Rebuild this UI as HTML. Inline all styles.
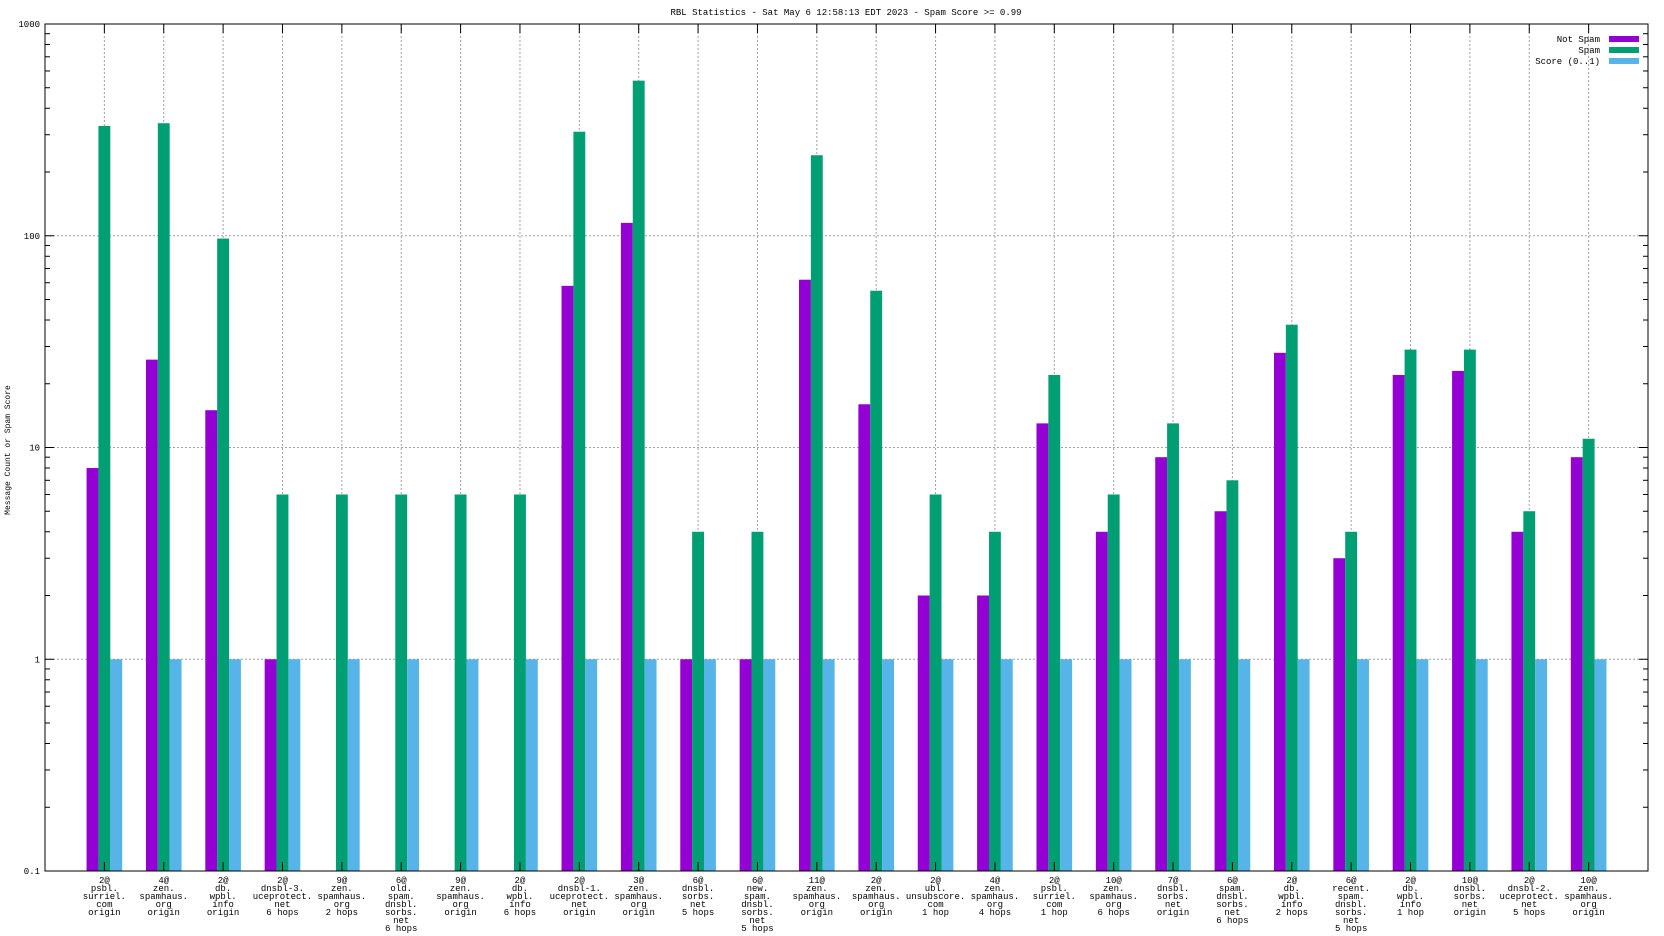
<!DOCTYPE html>
<html><head><meta charset="utf-8"><style>
html,body{margin:0;padding:0;background:#fff;}
svg{display:block;font-family:"Liberation Mono","DejaVu Sans Mono",monospace;}
</style></head><body>
<svg id="chart" width="1664" height="936" viewBox="0 0 1664 936" xmlns="http://www.w3.org/2000/svg">
<text x="846" y="15" font-size="9" text-anchor="middle">RBL Statistics - Sat May  6 12:58:13 EDT 2023 - Spam Score &gt;= 0.99</text>
<text transform="translate(10,450) rotate(-90)" font-size="8" text-anchor="middle">Message Count or Spam Score</text>
<g id="grid"></g><g id="bars"></g><g id="axes"></g><g id="labels"></g>
<g font-size="9">
<text x="1600" y="42" text-anchor="end">Not Spam</text>
<rect x="1609" y="36" width="30" height="6" fill="#9400d3"/>
<text x="1600" y="53" text-anchor="end">Spam</text>
<rect x="1609" y="47" width="30" height="6" fill="#009e73"/>
<text x="1600" y="64" text-anchor="end">Score (0..1)</text>
<rect x="1609" y="58" width="30" height="6" fill="#56b4e9"/>
</g>
</svg>
<script>
const categories=[
"2@|psbl.|surriel.|com|origin","4@|zen.|spamhaus.|org|origin","2@|db.|wpbl.|info|origin","2@|dnsbl-3.|uceprotect.|net|6 hops",
"9@|zen.|spamhaus.|org|2 hops","6@|old.|spam.|dnsbl.|sorbs.|net|6 hops","9@|zen.|spamhaus.|org|origin","2@|db.|wpbl.|info|6 hops",
"2@|dnsbl-1.|uceprotect.|net|origin","3@|zen.|spamhaus.|org|origin","6@|dnsbl.|sorbs.|net|5 hops","6@|new.|spam.|dnsbl.|sorbs.|net|5 hops",
"11@|zen.|spamhaus.|org|origin","2@|zen.|spamhaus.|org|origin","2@|ubl.|unsubscore.|com|1 hop","4@|zen.|spamhaus.|org|4 hops",
"2@|psbl.|surriel.|com|1 hop","10@|zen.|spamhaus.|org|6 hops","7@|dnsbl.|sorbs.|net|origin","6@|spam.|dnsbl.|sorbs.|net|6 hops",
"2@|db.|wpbl.|info|2 hops","6@|recent.|spam.|dnsbl.|sorbs.|net|5 hops","2@|db.|wpbl.|info|1 hop","10@|dnsbl.|sorbs.|net|origin",
"2@|dnsbl-2.|uceprotect.|net|5 hops","10@|zen.|spamhaus.|org|origin"];
const notSpam=[8,26,15,1,0,0,0,0,58,115,1,1,62,16,2,2,13,4,9,5,28,3,22,23,4,9];
const spam=[330,340,97,6,6,6,6,6,310,540,4,4,240,55,6,4,22,6,13,7,38,4,29,29,5,11];
const score=[1,1,1,1,1,1,1,1,1,1,1,1,1,1,1,1,1,1,1,1,1,1,1,1,1,1];
const yTicks=[1000,100,10,1,0.1];
const yTickLabels=["1000","100","10","1","0.1"];

const NS="http://www.w3.org/2000/svg";
const L=45,R=1648,T=24,B=871;
const x=i=>L+(i+1)*(R-L)/(categories.length+1);
const y=v=>B-(Math.log10(v)+1)*(B-T)/4;
const bw=(R-L)/(categories.length+1)*0.2;
function mk(tag,attrs,parent){const e=document.createElementNS(NS,tag);for(const k in attrs)e.setAttribute(k,attrs[k]);parent.appendChild(e);return e;}
const grid=document.getElementById('grid'),bars=document.getElementById('bars'),axes=document.getElementById('axes'),labels=document.getElementById('labels');
yTicks.forEach((v,k)=>{
  const g=mk('line',{x1:L,x2:R,y1:y(v),y2:y(v),stroke:'#a0a0a0','stroke-dasharray':'2,2'},grid);
  
  
  const t=mk('text',{x:L-5,y:y(v)+3,'font-size':9,'text-anchor':'end'},axes);
  t.textContent=yTickLabels[k];
  
  
  mk('line',{x1:L,x2:L+9,y1:y(v),y2:y(v),stroke:'#000'},axes);
  mk('line',{x1:R-9,x2:R,y1:y(v),y2:y(v),stroke:'#000'},axes);
  if(v<1000){for(let m=2;m<=9;m++){const yy=y(v*m);mk('line',{x1:L,x2:L+5,y1:yy,y2:yy,stroke:'#000'},axes);mk('line',{x1:R-5,x2:R,y1:yy,y2:yy,stroke:'#000'},axes);}}
});
categories.forEach((c,i)=>{
  const cx=x(i);
  const g=mk('line',{x1:cx,x2:cx,y1:T,y2:B,stroke:'#a0a0a0','stroke-dasharray':'2,2'},grid);
  
  
  mk('line',{x1:cx,x2:cx,y1:T,y2:T+9,stroke:'#000'},axes);
  mk('line',{x1:cx,x2:cx,y1:B-9,y2:B,stroke:'#000'},axes);
  [[notSpam,'#9400d3','bar-not-spam',-1.5],[spam,'#009e73','bar-spam',-0.5],[score,'#56b4e9','bar-score',0.5]].forEach(([arr,col,nm,off])=>{
    if(arr[i]>0){const r=mk('rect',{x:cx+off*bw,y:y(arr[i]),width:bw,height:B-y(arr[i]),fill:col},bars);
    
    }
  });
  const t=mk('text',{x:cx,y:B+12,'font-size':9,'text-anchor':'middle'},labels);
  
  
  c.split('|').forEach((ln,j)=>{const s=mk('tspan',{x:cx,dy:j?8:0},t);s.textContent=ln;});
});
const f=mk('rect',{x:L,y:T,width:R-L,height:B-T,fill:'none',stroke:'#000','stroke-width':1},axes);


</script>
</body></html>
